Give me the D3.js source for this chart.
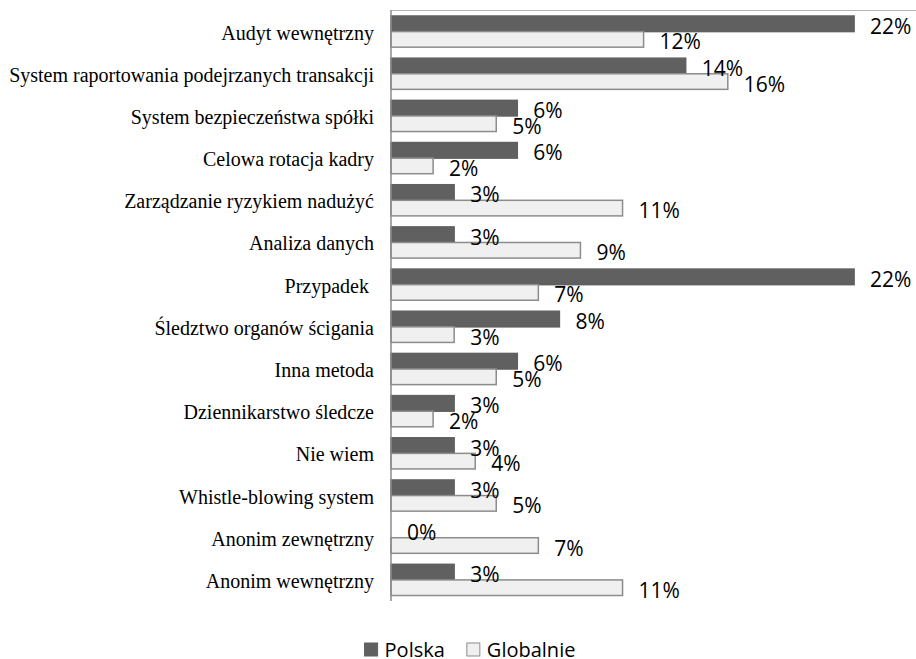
<!DOCTYPE html>
<html lang="pl">
<head>
  <meta charset="utf-8">
  <title>Metody wykrycia nadużyć</title>
  <script src="https://d3js.org/d3.v7.min.js"></script>
  <style>
    body { margin: 0; background: #fff; }
    .cat-label { font-family: "Liberation Serif", "Times New Roman", serif; font-size: 20px; fill: #000; white-space: pre; }
    .val-label { font-family: "Open Sans", sans-serif; font-size: 21px; fill: #000; }
    .legend-text { font-family: "Open Sans", sans-serif; font-size: 20px; fill: #000; }
  </style>
</head>
<body>
<script>
  // data
  const categories = [
    "Audyt wewnętrzny",
    "System raportowania podejrzanych transakcji",
    "System bezpieczeństwa spółki",
    "Celowa rotacja kadry",
    "Zarządzanie ryzykiem nadużyć",
    "Analiza danych",
    "Przypadek ",
    "Śledztwo organów ścigania",
    "Inna metoda",
    "Dziennikarstwo śledcze",
    "Nie wiem",
    "Whistle-blowing system",
    "Anonim zewnętrzny",
    "Anonim wewnętrzny"
  ];
  const polska    = [22, 14, 6, 6, 3, 3, 22, 8, 6, 3, 3, 3, 0, 3];
  const globalnie = [12, 16, 5, 2, 11, 9, 7, 3, 5, 2, 4, 5, 7, 11];
  const seriesNames = ["Polska", "Globalnie"];

  const width = 916, height = 659;
  const colors = { "Polska": "#606060", "Globalnie": "#f0f0f0" };
  const strokes = { "Polska": "#606060", "Globalnie": "#8c8c8c" };

  const svg = d3.select("body").append("svg")
    .attr("width", width)
    .attr("height", height);

  const x = d3.scaleLinear().domain([0, 25]).range([391, 391 + 25 * 21.05]);
  const y = d3.scaleBand().domain(categories).range([10.5, 601]).padding(0);
  const sub = d3.scaleBand().domain(seriesNames).range([5.5, y.bandwidth() - 5.5]);

  const rows = categories.map((c, i) => ({ cat: c, Polska: polska[i], Globalnie: globalnie[i] }));

  // top border line
  svg.append("line")
    .attr("x1", x(0)).attr("x2", width)
    .attr("y1", 10.5).attr("y2", 10.5)
    .attr("stroke", "#b4b4b4").attr("stroke-width", 1);

  const groups = svg.selectAll(".row")
    .data(rows)
    .enter().append("g")
    .attr("class", "row")
    .attr("transform", d => "translate(0," + y(d.cat) + ")");

  groups.selectAll("rect")
    .data(d => seriesNames.map(s => ({ key: s, value: d[s] })))
    .enter().append("rect")
    .attr("x", x(0))
    .attr("y", d => sub(d.key))
    .attr("width", d => x(d.value) - x(0))
    .attr("height", sub.bandwidth())
    .attr("fill", d => colors[d.key])
    .attr("stroke", d => d.value > 0 ? strokes[d.key] : "none")
    .attr("stroke-width", 1.5);

  groups.selectAll(".val-label")
    .data(d => seriesNames.map(s => ({ key: s, value: d[s] })))
    .enter().append("text")
    .attr("class", "val-label")
    .attr("x", d => x(d.value) + 16)
    .attr("y", d => sub(d.key) + sub.bandwidth() / 2 + 2)
    .attr("dominant-baseline", "central")
    .text(d => d.value + "%");

  // category labels
  svg.selectAll(".cat-label")
    .data(categories)
    .enter().append("text")
    .attr("class", "cat-label")
    .attr("x", 374)
    .attr("y", d => y(d) + y.bandwidth() / 2 + 1)
    .attr("text-anchor", "end")
    .attr("dominant-baseline", "central")
    .text(d => d);

  // vertical axis
  svg.append("line")
    .attr("x1", x(0)).attr("x2", x(0))
    .attr("y1", 10).attr("y2", 601)
    .attr("stroke", "#8c8c8c").attr("stroke-width", 1.5);

  // legend
  const legend = svg.append("g").attr("transform", "translate(0,649)");
  const items = legend.selectAll(".legend-item")
    .data(seriesNames)
    .enter().append("g")
    .attr("class", "legend-item");
  items.append("rect")
    .attr("x", 0).attr("y", -6)
    .attr("width", 13).attr("height", 13)
    .attr("fill", d => colors[d])
    .attr("stroke", d => strokes[d])
    .attr("stroke-width", 1);
  items.append("text")
    .attr("class", "legend-text")
    .attr("x", 20).attr("y", 0)
    .attr("dominant-baseline", "central")
    .text(d => d);

  let offsets = [], total = 0;
  items.each(function () {
    offsets.push(total);
    total += this.getBBox().width + 22;
  });
  total -= 22;
  const startX = 470 - total / 2;
  items.attr("transform", (d, i) => "translate(" + (startX + offsets[i]) + ",0)");
</script>
</body>
</html>
